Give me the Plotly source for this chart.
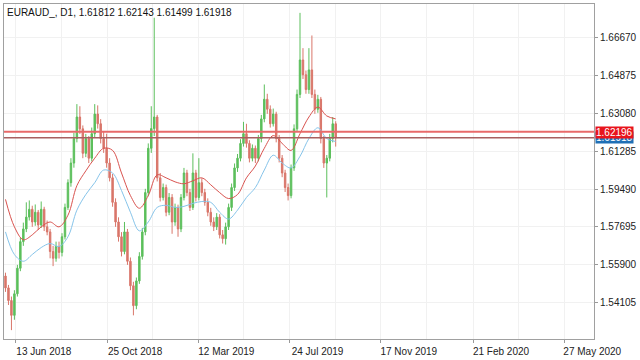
import plotly.graph_objects as go

# ---------------- data (EURAUD daily, grouped candles) ----------------
opens = [1.5537, 1.5481, 1.5421, 1.5351, 1.5453, 1.5574, 1.5700, 1.5760, 1.5816, 1.5853,
         1.5793, 1.5839, 1.5779, 1.5853, 1.5770, 1.5746, 1.5653, 1.5621, 1.5677, 1.5649,
         1.5723, 1.5862, 1.5979, 1.6072, 1.6188, 1.6290, 1.6234, 1.6118, 1.6188, 1.6095,
         1.6211, 1.6304, 1.6258, 1.6188, 1.6142, 1.6072, 1.6002, 1.5886, 1.5793, 1.5723,
         1.5653, 1.5746, 1.5607, 1.5491, 1.5397, 1.5514, 1.5630, 1.5746, 1.5932, 1.6142,
         1.6235, 1.6290, 1.6002, 1.5909, 1.5956, 1.5839, 1.5909, 1.5793, 1.5862, 1.5760,
         1.5909, 1.6025, 1.5932, 1.5862, 1.6025, 1.5909, 1.5979, 1.5932, 1.5886, 1.5839,
         1.5793, 1.5770, 1.5816, 1.5732, 1.5714, 1.5770, 1.5862, 1.5956, 1.6049, 1.6095,
         1.6165, 1.6211, 1.6165, 1.6095, 1.6142, 1.6095, 1.6188, 1.6281, 1.6374, 1.6327,
         1.6258, 1.6304, 1.6188, 1.6095, 1.6025, 1.5956, 1.5918, 1.6049, 1.6234, 1.6397,
         1.6560, 1.6490, 1.6420, 1.6513, 1.6397, 1.6327, 1.6374, 1.6188, 1.6072, 1.6095,
         1.6188, 1.6258]
highs = [1.5553, 1.5495, 1.5440, 1.5470, 1.5590, 1.5718, 1.5790, 1.5886, 1.5895, 1.5870,
         1.5876, 1.5850, 1.5890, 1.5865, 1.5800, 1.5760, 1.5680, 1.5700, 1.5700, 1.5740,
         1.5880, 1.5995, 1.6095, 1.6215, 1.6351, 1.6341, 1.6250, 1.6210, 1.6200, 1.6240,
         1.6351, 1.6345, 1.6280, 1.6220, 1.6211, 1.6095, 1.6020, 1.5905, 1.5815, 1.5745,
         1.5793, 1.5760, 1.5625, 1.5510, 1.5530, 1.5650, 1.5765, 1.5950, 1.6165, 1.6341,
         1.6760, 1.6300, 1.6025, 1.5975, 1.5970, 1.5930, 1.5925, 1.5880, 1.5875, 1.5925,
         1.6049, 1.6040, 1.5950, 1.6118, 1.6040, 1.6095, 1.6000, 1.5950, 1.5905, 1.5860,
         1.5815, 1.5835, 1.5830, 1.5755, 1.5790, 1.5880, 1.5975, 1.6070, 1.6115, 1.6185,
         1.6267, 1.6258, 1.6180, 1.6160, 1.6155, 1.6205, 1.6300, 1.6444, 1.6400, 1.6345,
         1.6330, 1.6315, 1.6205, 1.6110, 1.6040, 1.5975, 1.6065, 1.6255, 1.6420, 1.6783,
         1.6616, 1.6510, 1.6616, 1.6676, 1.6420, 1.6395, 1.6385, 1.6200, 1.6110, 1.6210,
         1.6290, 1.6270]
lows = [1.5462, 1.5400, 1.5281, 1.5330, 1.5440, 1.5560, 1.5680, 1.5745, 1.5800, 1.5770,
        1.5775, 1.5755, 1.5765, 1.5750, 1.5730, 1.5621, 1.5584, 1.5605, 1.5620, 1.5630,
        1.5710, 1.5850, 1.5960, 1.6050, 1.6170, 1.6210, 1.6095, 1.6100, 1.6072, 1.6080,
        1.6195, 1.6235, 1.6165, 1.6120, 1.6050, 1.5985, 1.5865, 1.5770, 1.5700, 1.5630,
        1.5640, 1.5590, 1.5470, 1.5351, 1.5380, 1.5500, 1.5615, 1.5730, 1.5915, 1.6120,
        1.6200, 1.5985, 1.5890, 1.5895, 1.5820, 1.5825, 1.5737, 1.5775, 1.5723, 1.5745,
        1.5895, 1.5915, 1.5845, 1.5850, 1.5890, 1.5895, 1.5915, 1.5870, 1.5820, 1.5775,
        1.5750, 1.5755, 1.5715, 1.5691, 1.5686, 1.5755, 1.5845, 1.5940, 1.6030, 1.6080,
        1.6150, 1.6145, 1.6075, 1.6080, 1.6072, 1.6080, 1.6170, 1.6265, 1.6305, 1.6240,
        1.6245, 1.6170, 1.6075, 1.6005, 1.5935, 1.5895, 1.5905, 1.6035, 1.6220, 1.6380,
        1.6470, 1.6400, 1.6400, 1.6380, 1.6305, 1.6310, 1.6165, 1.6049, 1.5909, 1.6080,
        1.6170, 1.6150]
closes = [1.5481, 1.5421, 1.5351, 1.5453, 1.5574, 1.5700, 1.5760, 1.5816, 1.5853, 1.5793,
          1.5839, 1.5779, 1.5853, 1.5770, 1.5746, 1.5653, 1.5621, 1.5677, 1.5649, 1.5723,
          1.5862, 1.5979, 1.6072, 1.6188, 1.6290, 1.6234, 1.6118, 1.6188, 1.6095, 1.6211,
          1.6304, 1.6258, 1.6188, 1.6142, 1.6072, 1.6002, 1.5886, 1.5793, 1.5723, 1.5653,
          1.5746, 1.5607, 1.5491, 1.5397, 1.5514, 1.5630, 1.5746, 1.5932, 1.6142, 1.6235,
          1.6290, 1.6002, 1.5909, 1.5956, 1.5839, 1.5909, 1.5793, 1.5862, 1.5760, 1.5909,
          1.6025, 1.5932, 1.5862, 1.6025, 1.5909, 1.5979, 1.5932, 1.5886, 1.5839, 1.5793,
          1.5770, 1.5816, 1.5732, 1.5714, 1.5770, 1.5862, 1.5956, 1.6049, 1.6095, 1.6165,
          1.6211, 1.6165, 1.6095, 1.6142, 1.6095, 1.6188, 1.6281, 1.6374, 1.6327, 1.6258,
          1.6304, 1.6188, 1.6095, 1.6025, 1.5956, 1.5918, 1.6049, 1.6234, 1.6397, 1.6560,
          1.6490, 1.6420, 1.6513, 1.6397, 1.6327, 1.6374, 1.6188, 1.6072, 1.6095, 1.6188,
          1.6258, 1.6192]

# moving averages, sampled every 3rd candle
ma_fast = [1.5900, 1.5770, 1.5709, 1.5732, 1.5770, 1.5793, 1.5770, 1.5825, 1.5965, 1.6035,
           1.6095, 1.6142, 1.6132, 1.6025, 1.5918, 1.5858, 1.5918, 1.6016, 1.6002, 1.5983,
           1.5974, 1.5988, 1.6002, 1.5969, 1.5932, 1.5904, 1.5923, 1.6002, 1.6058, 1.6142,
           1.6202, 1.6165, 1.6132, 1.6211, 1.6290, 1.6337, 1.6295, 1.6281]
ma_slow = [1.5746, 1.5639, 1.5607, 1.5639, 1.5672, 1.5691, 1.5677, 1.5723, 1.5849, 1.5923,
           1.5979, 1.6039, 1.6025, 1.5942, 1.5839, 1.5751, 1.5793, 1.5862, 1.5872, 1.5862,
           1.5867, 1.5881, 1.5890, 1.5886, 1.5839, 1.5807, 1.5849, 1.5909, 1.5956, 1.6039,
           1.6109, 1.6072, 1.6049, 1.6104, 1.6188, 1.6239, 1.6188, 1.6174]
ma_step = 3

# time-axis labels (positions in bar units)
tick_labels = ["13 Jun 2018", "25 Oct 2018", "12 Mar 2019", "24 Jul 2019",
               "17 Nov 2019", "21 Feb 2020", "27 May 2020"]
tick_bars = [3.5, 34.17, 64.83, 95.5, 126.17, 157.17, 187.83]

price_ticks = [1.54105, 1.55900, 1.57695, 1.59490, 1.61285, 1.63080, 1.64875, 1.66670]
level_line = 1.62196
bid_price = 1.61918
title_text = "EURAUD_, D1, 1.61812 1.62143 1.61499 1.61918"

# ---------------- figure ----------------
n = len(closes)
xs = list(range(n))
ma_x = [i * ma_step for i in range(len(ma_fast))]
minor_bars = [(tick_bars[k] + tick_bars[k + 1]) / 2 for k in range(len(tick_bars) - 1)]

green = "#5cbf5c"
red = "#d9766a"

fig = go.Figure()
fig.add_trace(go.Candlestick(
    x=xs, open=opens, high=highs, low=lows, close=closes,
    increasing=dict(line=dict(color=green, width=1), fillcolor=green),
    decreasing=dict(line=dict(color=red, width=1), fillcolor=red),
    whiskerwidth=0, showlegend=False, hoverinfo="skip"))
fig.add_trace(go.Scatter(x=ma_x, y=ma_slow, mode="lines",
                         line=dict(color="#86c4ea", width=1, shape="spline"),
                         showlegend=False, hoverinfo="skip"))
fig.add_trace(go.Scatter(x=ma_x, y=ma_fast, mode="lines",
                         line=dict(color="#d9534f", width=1, shape="spline"),
                         showlegend=False, hoverinfo="skip"))

fig.add_hline(y=level_line, line=dict(color="#e86a6a", width=2))
fig.add_hline(y=bid_price, line=dict(color="#a86060", width=1.5))

font = "Liberation Sans, Arial, sans-serif"

fig.update_layout(
    width=640, height=360,
    margin=dict(l=4, r=41, t=3, b=16),
    paper_bgcolor="white", plot_bgcolor="white",
    font=dict(family=font, size=10, color="#222"),
    showlegend=False,
    xaxis=dict(
        range=[-0.5, 197.83], rangeslider=dict(visible=False),
        tickmode="array", tickvals=tick_bars, ticktext=tick_labels,
        ticks="outside", ticklen=3, tickcolor="#999",
        ticklabelshift=28,
        showgrid=True, gridcolor="#f1f1f1", gridwidth=1,
        minor=dict(tickmode="array", tickvals=minor_bars, showgrid=True,
                   gridcolor="#f1f1f1", ticks=""),
        showline=True, linecolor="#a0a0a0", linewidth=1, mirror=True,
        zeroline=False, fixedrange=True),
    yaxis=dict(
        side="right", range=[1.5239, 1.6825],
        tickmode="array", tickvals=price_ticks,
        ticktext=[f"{v:.5f}" for v in price_ticks],
        ticks="outside", ticklen=3, tickcolor="#999",
        showgrid=True, gridcolor="#f1f1f1", gridwidth=1,
        showline=True, linecolor="#a0a0a0", linewidth=1, mirror=True,
        zeroline=False, fixedrange=True),
)

fig.add_annotation(xref="paper", yref="paper", x=0, y=1, xanchor="left", yanchor="top",
                   xshift=1, yshift=-1, text=title_text, showarrow=False,
                   font=dict(family=font, size=10, color="#111"))
fig.add_annotation(xref="paper", yref="y", x=1, y=bid_price, xanchor="left", yanchor="middle",
                   xshift=1, text=f"{bid_price:.5f}", showarrow=False, bgcolor="#1f6fb5",
                   borderpad=0, font=dict(family=font, size=10, color="white"))
fig.add_annotation(xref="paper", yref="y", x=1, y=level_line, xanchor="left", yanchor="middle",
                   xshift=1, yshift=-1, text=f"{level_line:.5f}", showarrow=False, bgcolor="#e8141c",
                   borderpad=0, font=dict(family=font, size=10, color="white"))

fig.write_html("out.html")
